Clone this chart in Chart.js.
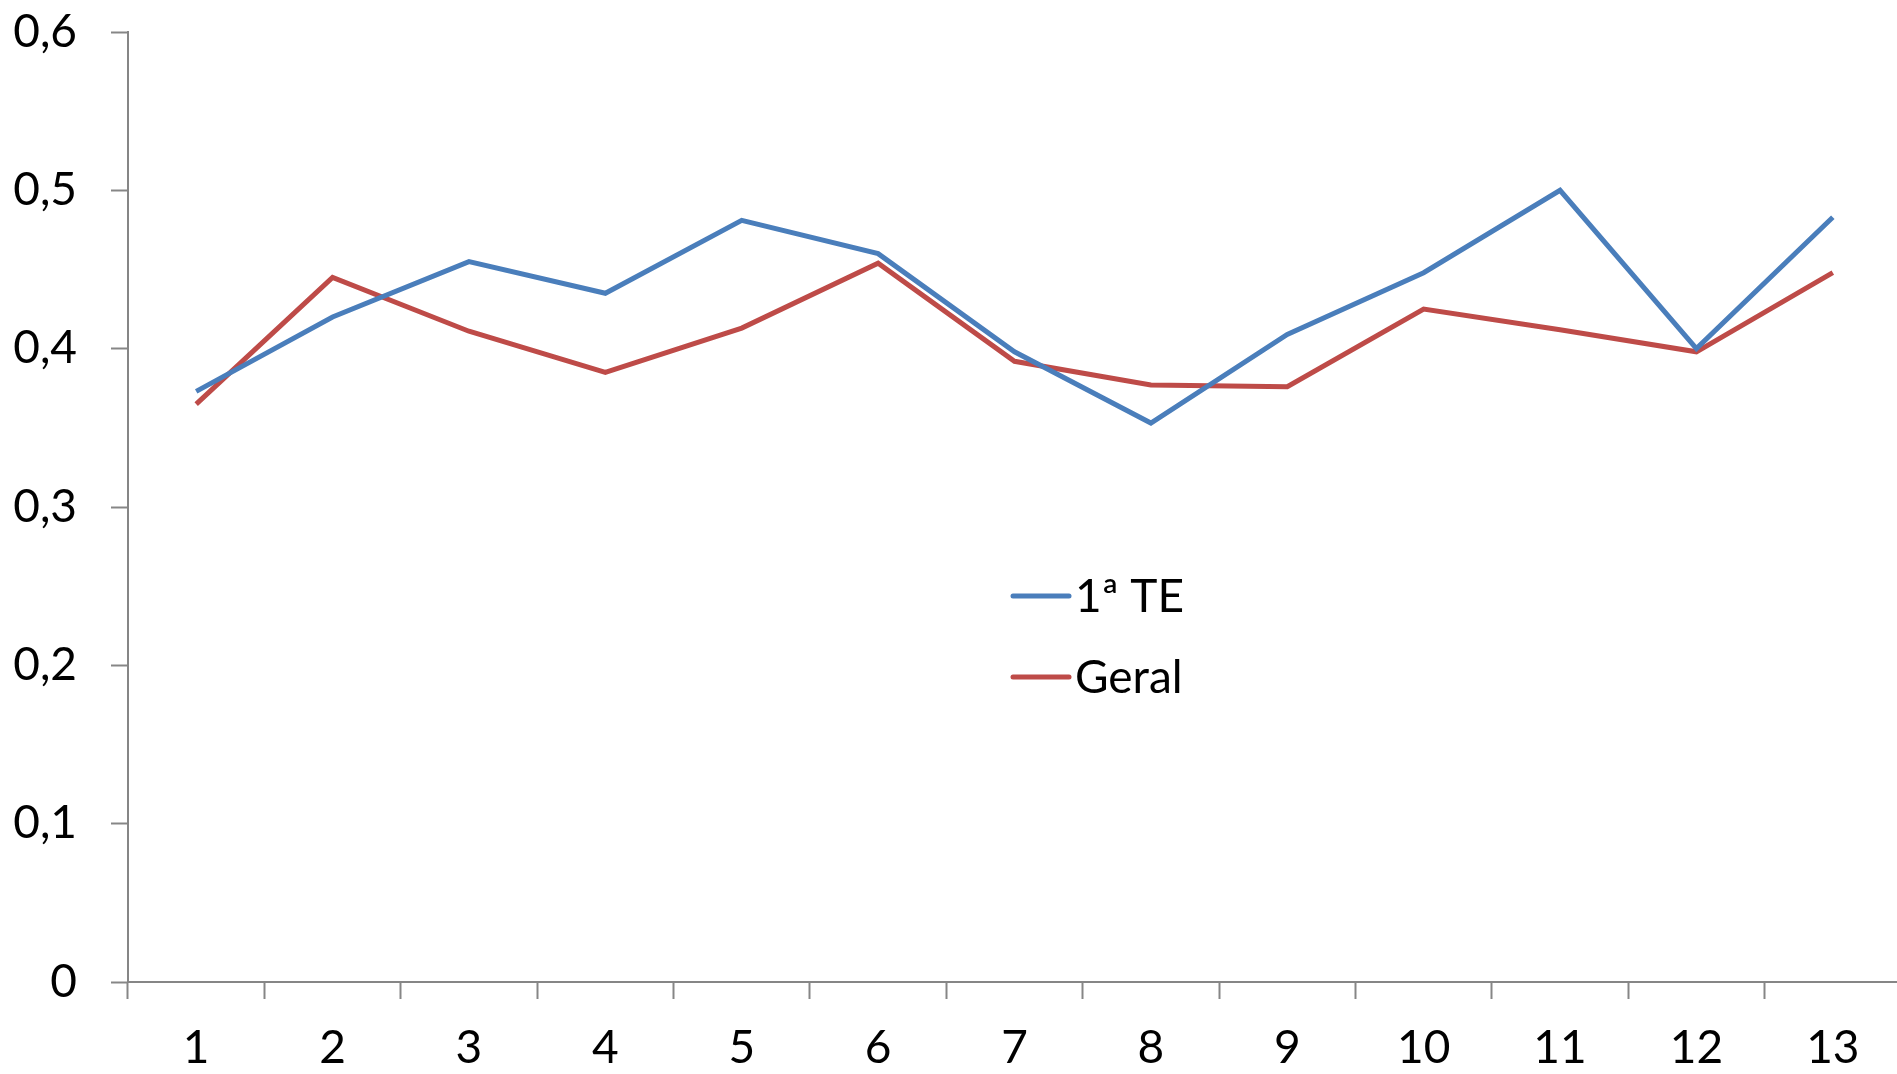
<!DOCTYPE html>
<html>
<head>
<meta charset="utf-8">
<title>1ª TE vs Geral</title>
<script src="https://cdn.jsdelivr.net/npm/chart.js@4.4.1/dist/chart.umd.min.js"></script>
<style>
    html, body { margin: 0; padding: 0; background: #fff; overflow: hidden; }
    #wrap { width: 1897px; height: 1074px; overflow: hidden; }
</style>
</head>
<body>
<div id="wrap"><canvas id="lineChart" width="1901" height="1074"></canvas></div>
<script>
const categories = ['1', '2', '3', '4', '5', '6', '7', '8', '9', '10', '11', '12', '13'];
const primeiraTE = [0.373, 0.420, 0.455, 0.435, 0.481, 0.460, 0.398, 0.353, 0.409, 0.448, 0.500, 0.400, 0.483];
const geral = [0.365, 0.445, 0.411, 0.385, 0.413, 0.454, 0.392, 0.377, 0.376, 0.425, 0.412, 0.398, 0.448];
const yTicks = [0, 0.1, 0.2, 0.3, 0.4, 0.5, 0.6];

const AXIS_GREY = '#868686';
const FONT = { family: 'Lato, "Open Sans", sans-serif', size: 46 };

// legend sits inside the plot area, drawn by hand
const innerLegend = {
    id: 'innerLegend',
    afterDraw(chart) {
        const ctx = chart.ctx;
        const area = chart.chartArea;
        const x0 = area.left + 885;
        const y0 = area.top + 564;
        ctx.save();
        ctx.font = FONT.size + 'px ' + FONT.family;
        ctx.textBaseline = 'middle';
        ctx.lineCap = 'round';
        chart.data.datasets.forEach((ds, i) => {
            const y = y0 + i * 81;
            ctx.strokeStyle = ds.borderColor;
            ctx.lineWidth = 5;
            ctx.beginPath();
            ctx.moveTo(x0, y);
            ctx.lineTo(x0 + 56, y);
            ctx.stroke();
            ctx.fillStyle = '#000';
            ctx.fillText(ds.label, x0 + 62, y + 1);
        });
        ctx.restore();
    }
};

const ctx = document.getElementById('lineChart').getContext('2d');
new Chart(ctx, {
    type: 'line',
    data: {
        labels: categories,
        datasets: [{
            label: '1ª TE',
            data: primeiraTE,
            borderColor: '#4a7ebb',
            borderWidth: 5,
            pointRadius: 0,
            tension: 0,
            fill: false
        }, {
            label: 'Geral',
            data: geral,
            borderColor: '#be4b48',
            borderWidth: 5,
            pointRadius: 0,
            tension: 0,
            fill: false
        }]
    },
    options: {
        responsive: false,
        animation: false,
        layout: {
            padding: { top: 32, right: 0, bottom: 0, left: 0 }
        },
        plugins: {
            legend: { display: false },
            tooltip: { enabled: false }
        },
        scales: {
            x: {
                offset: true,
                grid: {
                    offset: true,
                    drawOnChartArea: false,
                    drawTicks: true,
                    tickLength: 17,
                    tickWidth: 2,
                    tickColor: AXIS_GREY
                },
                border: { color: AXIS_GREY, width: 2 },
                ticks: {
                    color: '#000',
                    font: FONT,
                    padding: 22,
                    maxRotation: 0,
                    autoSkip: false
                },
                afterFit(scale) {
                    scale.height = 92;
                    scale.paddingLeft = 0;
                    scale.paddingRight = 0;
                }
            },
            y: {
                min: 0,
                max: 0.6,
                afterBuildTicks(scale) {
                    scale.ticks = yTicks.map(v => ({ value: v }));
                },
                grid: {
                    drawOnChartArea: false,
                    drawTicks: true,
                    tickLength: 17,
                    tickWidth: 2,
                    tickColor: AXIS_GREY
                },
                border: { color: AXIS_GREY, width: 2 },
                ticks: {
                    color: '#000',
                    font: FONT,
                    padding: 34,
                    callback: v => String(Math.round(v * 10) / 10).replace('.', ',')
                },
                afterFit(scale) {
                    scale.width = 128;
                    scale.paddingTop = 0;
                    scale.paddingBottom = 0;
                }
            }
        }
    },
    plugins: [innerLegend]
});
</script>
</body>
</html>
